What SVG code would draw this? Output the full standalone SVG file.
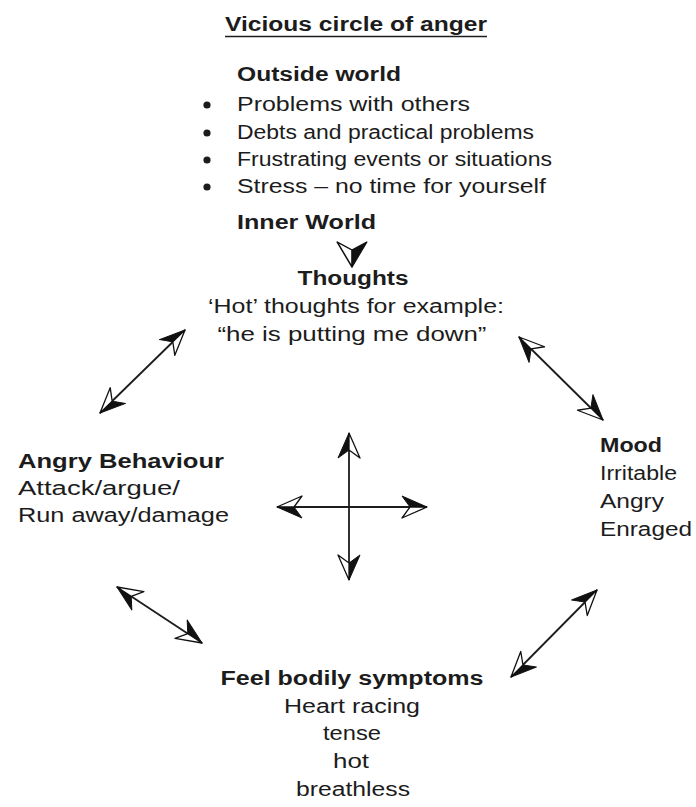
<svg xmlns="http://www.w3.org/2000/svg" width="696" height="807" viewBox="0 0 696 807">
<defs>
<style>
text{font-family:"Liberation Sans",Arial,Helvetica,sans-serif;font-size:20px;fill:#1c1c1c}
.b{font-weight:bold}
.m{text-anchor:middle}
.ln{stroke:#1c1c1c;stroke-width:1.8;fill:none}
</style>
<marker id="ah" viewBox="-28 -14 30 28" markerWidth="30" markerHeight="28" refX="0" refY="0" orient="auto-start-reverse" markerUnits="userSpaceOnUse" overflow="visible">
<path d="M0,0 L-25,-11 L-17,0 Z" fill="#111" stroke="#111" stroke-width="1" stroke-linejoin="round"/>
<path d="M0,0 L-17,0 L-25,11 Z" fill="#fff" stroke="#111" stroke-width="1.3" stroke-linejoin="round"/>
</marker>
</defs>
<rect width="696" height="807" fill="#fff"/>

<g id="title">
<text class="b" x="225" y="31" textLength="262" lengthAdjust="spacingAndGlyphs">Vicious circle of anger</text>
<line x1="225" y1="36.5" x2="487" y2="36.5" stroke="#1c1c1c" stroke-width="1.6"/>
</g>

<g id="outside-world">
<text class="b" x="237" y="81" textLength="164" lengthAdjust="spacingAndGlyphs">Outside world</text>
<circle cx="207" cy="105" r="3.6" fill="#1c1c1c"/>
<text x="237" y="111" textLength="233" lengthAdjust="spacingAndGlyphs">Problems with others</text>
<circle cx="207" cy="133" r="3.6" fill="#1c1c1c"/>
<text x="237" y="139" textLength="297" lengthAdjust="spacingAndGlyphs">Debts and practical problems</text>
<circle cx="207" cy="160" r="3.6" fill="#1c1c1c"/>
<text x="237" y="166" textLength="315" lengthAdjust="spacingAndGlyphs">Frustrating events or situations</text>
<circle cx="207" cy="187" r="3.6" fill="#1c1c1c"/>
<text x="237" y="193" textLength="309" lengthAdjust="spacingAndGlyphs">Stress – no time for yourself</text>
<text class="b" x="237" y="229" textLength="139" lengthAdjust="spacingAndGlyphs">Inner World</text>
</g>

<g id="thoughts">
<text class="b m" x="353" y="285" textLength="111" lengthAdjust="spacingAndGlyphs">Thoughts</text>
<text class="m" x="356" y="313" textLength="296" lengthAdjust="spacingAndGlyphs">‘Hot’ thoughts for example:</text>
<text class="m" x="352" y="341" textLength="269" lengthAdjust="spacingAndGlyphs">“he is putting me down”</text>
</g>

<g id="angry-behaviour">
<text class="b" x="18" y="468" textLength="206" lengthAdjust="spacingAndGlyphs">Angry Behaviour</text>
<text x="18" y="495" textLength="162" lengthAdjust="spacingAndGlyphs">Attack/argue/</text>
<text x="18" y="522" textLength="211" lengthAdjust="spacingAndGlyphs">Run away/damage</text>
</g>

<g id="mood">
<text class="b" x="600" y="452" textLength="62" lengthAdjust="spacingAndGlyphs">Mood</text>
<text x="600" y="480" textLength="77" lengthAdjust="spacingAndGlyphs">Irritable</text>
<text x="600" y="508" textLength="64" lengthAdjust="spacingAndGlyphs">Angry</text>
<text x="600" y="536" textLength="92" lengthAdjust="spacingAndGlyphs">Enraged</text>
</g>

<g id="bodily-symptoms">
<text class="b m" x="352" y="685" textLength="263" lengthAdjust="spacingAndGlyphs">Feel bodily symptoms</text>
<text class="m" x="352" y="713" textLength="136" lengthAdjust="spacingAndGlyphs">Heart racing</text>
<text class="m" x="352" y="740" textLength="58" lengthAdjust="spacingAndGlyphs">tense</text>
<text class="m" x="351" y="768" textLength="36" lengthAdjust="spacingAndGlyphs">hot</text>
<text class="m" x="353" y="796" textLength="114" lengthAdjust="spacingAndGlyphs">breathless</text>
</g>

<g id="connectors">
<g transform="translate(352,267) rotate(90) scale(1,1.35)">
<path d="M0,0 L-25,-11 L-17,0 Z" fill="#111" stroke="#111" stroke-width="1" stroke-linejoin="round"/>
<path d="M0,0 L-17,0 L-25,11 Z" fill="#fff" stroke="#111" stroke-width="1.2" stroke-linejoin="round"/>
</g>
<line class="ln" x1="100" y1="413" x2="185" y2="330" marker-start="url(#ah)" marker-end="url(#ah)"/>
<line class="ln" x1="519" y1="337" x2="603" y2="420" marker-start="url(#ah)" marker-end="url(#ah)"/>
<line class="ln" x1="117" y1="587" x2="202" y2="643" marker-start="url(#ah)" marker-end="url(#ah)"/>
<line class="ln" x1="511" y1="677" x2="597" y2="590" marker-start="url(#ah)" marker-end="url(#ah)"/>
<line class="ln" x1="349" y1="580" x2="349" y2="433" marker-start="url(#ah)" marker-end="url(#ah)"/>
<line class="ln" x1="277" y1="507" x2="427" y2="507" marker-start="url(#ah)" marker-end="url(#ah)"/>
</g>
</svg>
